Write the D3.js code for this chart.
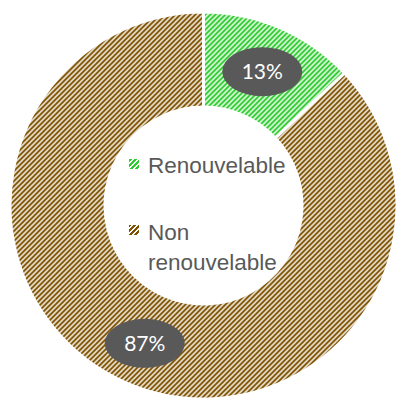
<!DOCTYPE html>
<html>
<head>
<meta charset="utf-8">
<script src="https://cdn.jsdelivr.net/npm/d3@7/dist/d3.min.js"></script>
<style>
  html, body { margin: 0; padding: 0; background: #ffffff; }
  svg { display: block; }
</style>
</head>
<body>
<script>
// Energy mix: share of renewable vs non-renewable sources
const categories = ["Renouvelable", "Non renouvelable"];
const values = [13, 87];
const labels = ["13%", "87%"];
const legendLines = [["Renouvelable"], ["Non", "renouvelable"]];
const colors = ["#2ecc2e", "#7f5200"];

const width = 398, height = 401;
const cx = 203.5, cy = 205.5;
const outerR = 193.5, innerR = 98.5, labelR = 148;

const svg = d3.select("body").append("svg")
  .attr("width", width).attr("height", height);

// Hatched fills: pixel-exact diagonal stripes rising to the right (5px period)
const tile = 5, ink = 3;
const defs = svg.append("defs");
colors.forEach((c, i) => {
  const p = defs.append("pattern")
    .attr("id", "hatch" + i)
    .attr("patternUnits", "userSpaceOnUse")
    .attr("width", tile).attr("height", tile);
  p.append("rect").attr("width", tile).attr("height", tile).attr("fill", "#ffffff");
  const cells = [];
  for (let y = 0; y < tile; y++) {
    for (let k = 0; k < ink; k++) {
      cells.push({ x: (tile - 1 - y + k) % tile, y });
    }
  }
  p.selectAll("rect.px").data(cells).join("rect")
    .attr("class", "px")
    .attr("x", d => d.x).attr("y", d => d.y)
    .attr("width", 1).attr("height", 1)
    .attr("fill", c)
    .attr("shape-rendering", "crispEdges");
});

const pie = d3.pie().sort(null).value(d => d).startAngle(0).endAngle(2 * Math.PI);
const arcs = pie(values);
const arc = d3.arc().innerRadius(innerR).outerRadius(outerR);
const labelArc = d3.arc().innerRadius(labelR).outerRadius(labelR);

const g = svg.append("g").attr("transform", `translate(${cx},${cy})`);

g.selectAll("path.slice")
  .data(arcs)
  .join("path")
  .attr("class", "slice")
  .attr("d", arc)
  .attr("fill", (d, i) => `url(#hatch${i})`)
  .attr("stroke", "#ffffff")
  .attr("stroke-width", 3);

// Value labels in dark ellipses
const lab = g.selectAll("g.lab")
  .data(arcs)
  .join("g")
  .attr("class", "lab")
  .attr("transform", d => {
    const [x, y] = labelArc.centroid(d);
    return `translate(${x},${y + 2})`;
  });
lab.append("ellipse")
  .attr("rx", 40).attr("ry", 24.5)
  .attr("fill", "#595959");
lab.append("text")
  .attr("text-anchor", "middle")
  .attr("dy", "0.36em")
  .attr("font-family", "Lato, 'Open Sans', sans-serif")
  .attr("font-size", 21)
  .attr("fill", "#ffffff")
  .text((d, i) => labels[i]);

// Legend inside the hole
const legend = svg.append("g").attr("transform", "translate(129,0)");
const rowTop = [159, 225];
const rowBase = [172.5, 240];
categories.forEach((c, i) => {
  legend.append("rect")
    .attr("x", 0).attr("y", rowTop[i])
    .attr("width", 10).attr("height", 10)
    .attr("fill", `url(#hatch${i})`);
  const t = legend.append("text")
    .attr("x", 19).attr("y", rowBase[i])
    .attr("font-family", "'Liberation Sans', Arial, sans-serif")
    .attr("font-size", 22.5)
    .attr("fill", "#595959");
  legendLines[i].forEach((line, j) => {
    t.append("tspan").attr("x", 19).attr("dy", j === 0 ? 0 : 30).text(line);
  });
});
</script>
</body>
</html>
